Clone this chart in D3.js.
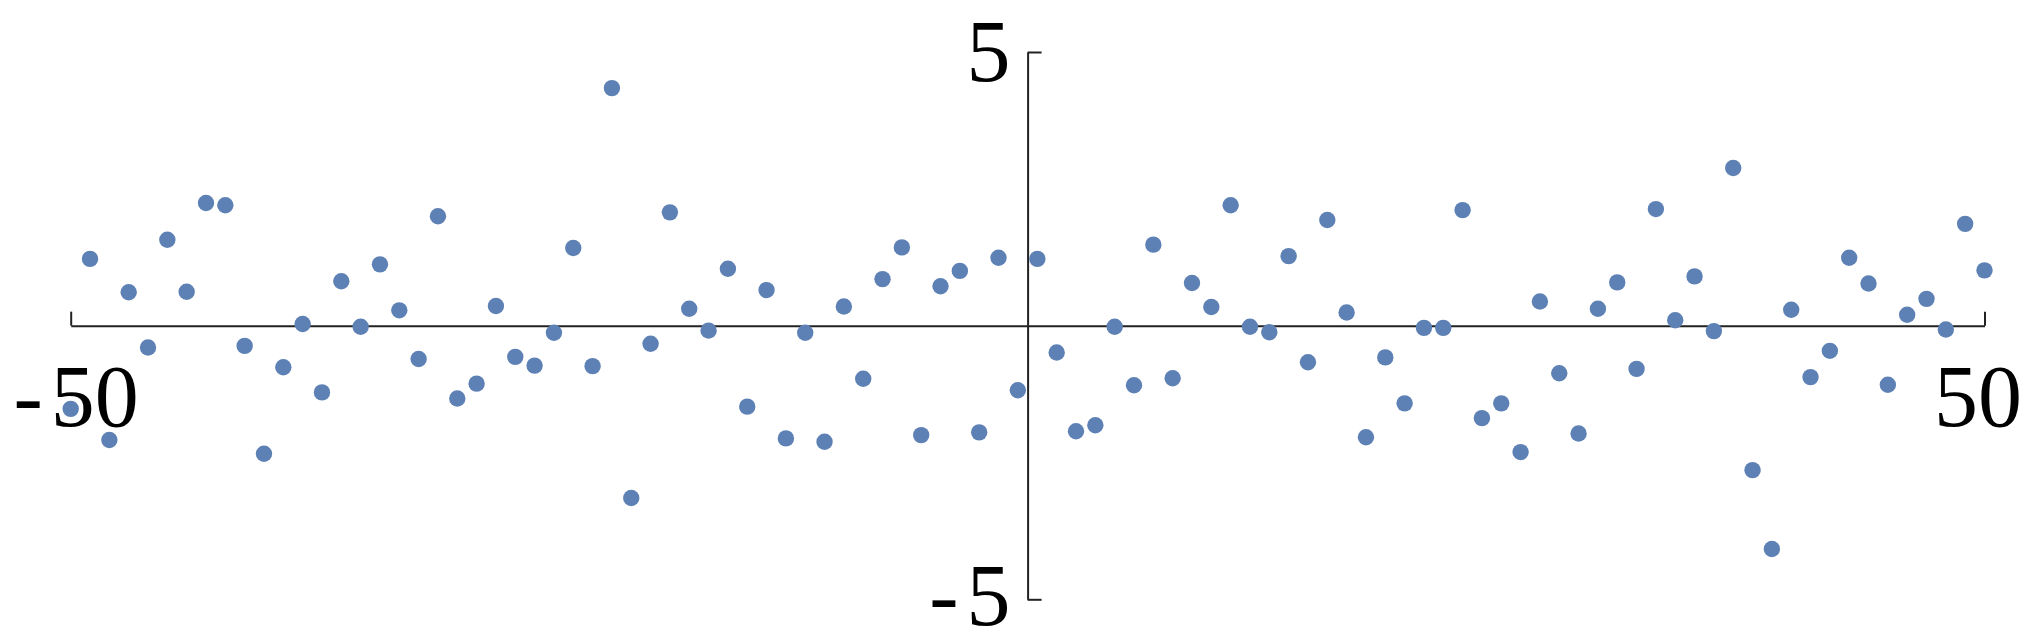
<!DOCTYPE html>
<html>
<head>
<meta charset="utf-8">
<script src="https://cdn.jsdelivr.net/npm/d3@7"></script>
<style>
  html, body { margin: 0; padding: 0; background: #fff; }
  svg { display: block; }
</style>
</head>
<body>
<div id="chart"></div>
<script>
// sample positions (100 evenly spaced points from -50 to 50)
const xValues = [
  -50, -48.99, -47.98, -46.97, -45.96, -44.95, -43.94, -42.93, -41.92, -40.91,
  -39.90, -38.89, -37.88, -36.87, -35.86, -34.85, -33.84, -32.83, -31.82, -30.81,
  -29.80, -28.79, -27.78, -26.77, -25.76, -24.75, -23.74, -22.73, -21.72, -20.71,
  -19.70, -18.69, -17.68, -16.67, -15.66, -14.65, -13.64, -12.63, -11.62, -10.61,
  -9.60, -8.59, -7.58, -6.57, -5.56, -4.55, -3.54, -2.53, -1.52, -0.51,
  0.51, 1.52, 2.53, 3.54, 4.55, 5.56, 6.57, 7.58, 8.59, 9.60,
  10.61, 11.62, 12.63, 13.64, 14.65, 15.66, 16.67, 17.68, 18.69, 19.70,
  20.71, 21.72, 22.73, 23.74, 24.75, 25.76, 26.77, 27.78, 28.79, 29.80,
  30.81, 31.82, 32.83, 33.84, 34.85, 35.86, 36.87, 37.88, 38.89, 39.90,
  40.91, 41.92, 42.93, 43.94, 44.95, 45.96, 46.97, 47.98, 48.99, 50
];
// values
const yValues = [
  -1.52, 1.22, -2.09, 0.61, -0.40, 1.57, 0.62, 2.24, 2.20, -0.37,
  -2.34, -0.76, 0.03, -1.22, 0.81, -0.02, 1.12, 0.28, -0.61, 2.00,
  -1.33, -1.06, 0.36, -0.57, -0.73, -0.13, 1.42, -0.74, 4.34, -3.15,
  -0.33, 2.07, 0.31, -0.09, 1.04, -1.48, 0.65, -2.06, -0.13, -2.12,
  0.35, -0.97, 0.85, 1.43, -2.00, 0.72, 1.00, -1.95, 1.24, -1.18,
  1.22, -0.49, -1.93, -1.82, -0.02, -1.09, 1.48, -0.96, 0.78, 0.34,
  2.20, -0.02, -0.12, 1.27, -0.67, 1.93, 0.24, -2.04, -0.58, -1.42,
  -0.04, -0.04, 2.11, -1.69, -1.42, -2.31, 0.44, -0.87, -1.97, 0.31,
  0.79, -0.79, 2.13, 0.10, 0.90, -0.10, 2.88, -2.64, -4.08, 0.29,
  -0.94, -0.46, 1.24, 0.77, -1.08, 0.20, 0.49, -0.07, 1.86, 1.01
];
const xTicks = [-50, 50];
const yTicks = [-5, 5];

const width = 2036, height = 644;
const margin = {top: 52, right: 51.5, bottom: 44.7, left: 70.7};

const svg = d3.select("#chart")
  .append("svg")
    .attr("width", width)
    .attr("height", height);

const x = d3.scaleLinear()
  .domain([-50, 50])
  .range([margin.left, width - margin.right]);
const y = d3.scaleLinear()
  .domain([-5, 5])
  .range([height - margin.bottom, margin.top]);

// minus sign drawn as a short dash with a little gap before the digits
function label(sel) {
  sel.each(function(d) {
    const t = d3.select(this).text(null);
    if (d < 0) {
      t.append("tspan").text("-");
      t.append("tspan").attr("dx", 8).text(Math.abs(d));
    } else {
      t.append("tspan").text(d);
    }
  });
}

// x axis through y = 0, end ticks pointing up
const gx = svg.append("g")
  .attr("transform", "translate(0," + y(0) + ")")
  .call(d3.axisBottom(x)
    .tickValues(xTicks)
    .tickSizeInner(-14)
    .tickSizeOuter(0));
gx.selectAll(".tick text")
  .attr("dy", null)
  .attr("y", 100)
  .attr("dx", d => d < 0 ? 5 : -7)
  .call(label);

// y axis through x = 0, ticks pointing right, labels on the left
const gy = svg.append("g")
  .attr("transform", "translate(" + x(0) + ",0)")
  .call(d3.axisLeft(y)
    .tickValues(yTicks)
    .tickSizeInner(-14)
    .tickSizeOuter(0)
    .tickPadding(17));
gy.selectAll(".tick text")
  .attr("dy", null)
  .attr("y", d => d < 0 ? 25 : 28)
  .call(label);

[gx, gy].forEach(g => {
  g.select(".domain").attr("stroke", "#222").attr("stroke-width", 2);
  g.selectAll(".tick line").attr("stroke", "#222").attr("stroke-width", 2);
  g.selectAll(".tick text")
    .attr("fill", "#000")
    .style("font-family", "'Liberation Serif', 'DejaVu Serif', serif")
    .style("font-size", "88px");
});

svg.append("g")
  .selectAll("circle")
  .data(xValues.map((d, i) => ({x: d, y: yValues[i]})))
  .join("circle")
    .attr("cx", d => x(d.x))
    .attr("cy", d => y(d.y))
    .attr("r", 8.2)
    .attr("fill", "#5e81b5");
</script>
</body>
</html>
